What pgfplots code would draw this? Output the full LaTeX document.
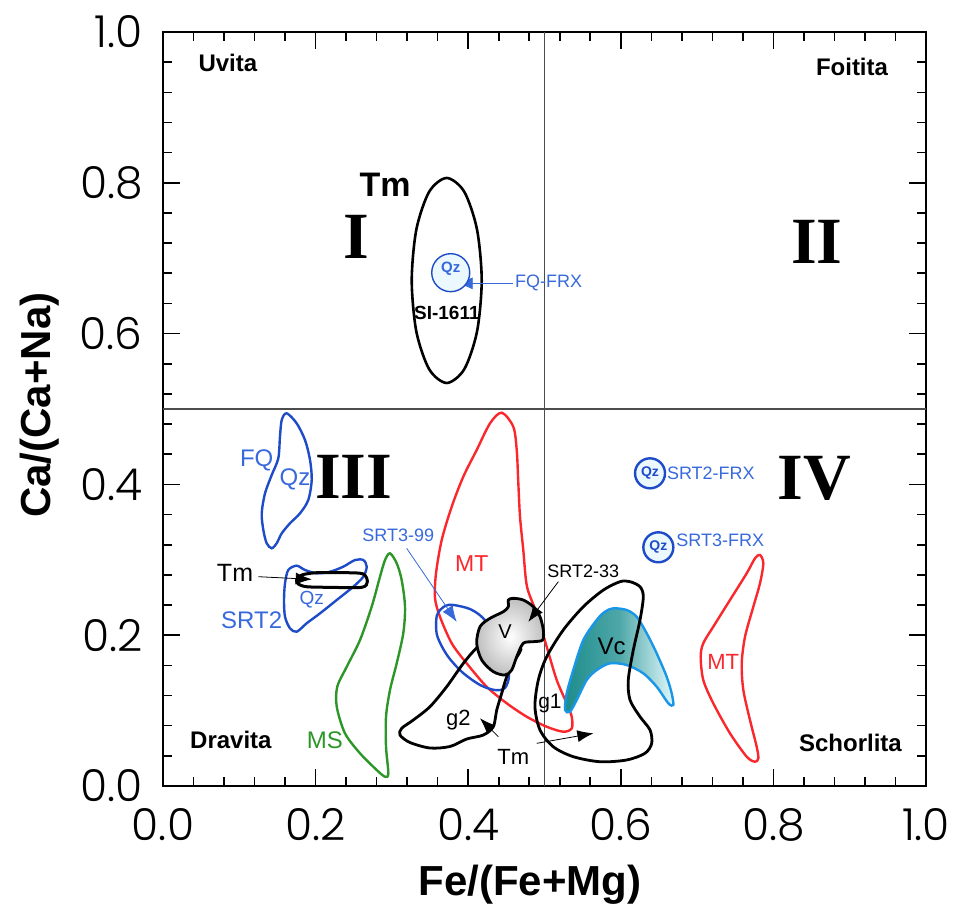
\documentclass[border=0pt]{standalone}
\usepackage{pgfplots}
\pgfplotsset{compat=1.18}
\usepackage{fontspec}
\setmainfont{Liberation Sans}
\newfontfamily\romanfont{Liberation Serif}
\newfontfamily\tickfont{Poppins Light}
\usetikzlibrary{arrows.meta}
\definecolor{myblue}{RGB}{30,75,200}
\definecolor{txtblue}{RGB}{55,105,220}
\definecolor{myred}{RGB}{250,40,45}
\definecolor{mygreen}{RGB}{45,150,40}
\definecolor{vcline}{RGB}{25,150,230}
\definecolor{vcdark}{RGB}{30,140,140}
\definecolor{vclight}{RGB}{225,248,252}
\begin{document}
\begin{tikzpicture}
\path[use as bounding box] (-81.5pt,-60.5pt) rectangle (397pt,393pt);
\begin{axis}[
  at={(0,0)}, anchor=south west,
  scale only axis, width=381.5pt, height=377pt,
  xmin=0, xmax=1, ymin=0, ymax=1,
  xtick={0,0.2,0.4,0.6,0.8,1}, ytick={0,0.2,0.4,0.6,0.8,1},
  minor tick num=4,
  tick align=inside,
  major tick length=8.5pt, minor tick length=4.5pt,
  axis line style={line width=0.9pt},
  every tick/.style={black, line width=0.8pt},
  /pgf/number format/fixed, /pgf/number format/fixed zerofill,
  /pgf/number format/precision=1, /pgf/number format/assume math mode=true,
  xticklabel style={font=\tickfont\fontsize{22}{24}\selectfont, inner sep=0pt, anchor=north},
  yticklabel style={font=\tickfont\fontsize{22}{24}\selectfont, inner sep=0pt, anchor=east},
  xticklabel shift=11pt, yticklabel shift=10pt,
  xlabel={Fe/(Fe+Mg)}, ylabel={Ca/(Ca+Na)},
  xlabel style={font=\bfseries\fontsize{21}{24}\selectfont, at={(axis description cs:0.481,-0.1446)}, anchor=base},
  ylabel style={font=\bfseries\fontsize{21}{24}\selectfont, at={(axis description cs:-0.148,0.505)}, anchor=base},
  clip=false,
]
% quadrant lines
\addplot[gray!60!black, line width=0.6pt] coordinates {(0.5,0) (0.5,1)};
\addplot[gray!60!black, line width=0.6pt] coordinates {(0,0.5) (1,0.5)};
% MS
\addplot[mygreen, line width=1.2pt, smooth cycle] coordinates {
(0.2975,0.3086) (0.3063,0.2954) (0.3128,0.2732) (0.3172,0.2378) (0.3149,0.2025) (0.3063,0.1627) (0.2975,0.1273) (0.2923,0.0919) (0.2923,0.0521) (0.2953,0.0168) (0.2910,0.0123) (0.2801,0.0212) (0.2582,0.0434) (0.2385,0.0699) (0.2277,0.1052) (0.2284,0.1317) (0.2408,0.1582) (0.2582,0.1936) (0.2735,0.2378) (0.2844,0.2776) (0.2910,0.2997)};
% FQ
\addplot[myblue, line width=1.2pt, smooth cycle] coordinates {
(0.1621,0.4943) (0.1752,0.4810) (0.1861,0.4589) (0.1927,0.4324) (0.1949,0.4058) (0.1904,0.3793) (0.1796,0.3617) (0.1664,0.3484) (0.1556,0.3351) (0.1490,0.3219) (0.1425,0.3153) (0.1359,0.3219) (0.1315,0.3395) (0.1294,0.3617) (0.1337,0.3882) (0.1425,0.4125) (0.1511,0.4346) (0.1533,0.4633) (0.1556,0.4854)};
% SRT2
\addplot[myblue, line width=1.2pt, smooth cycle] coordinates {
(0.1642,0.2865) (0.1752,0.2922) (0.1861,0.2865) (0.2014,0.2821) (0.2189,0.2842) (0.2363,0.2909) (0.2516,0.2997) (0.2625,0.2997) (0.2670,0.2909) (0.2625,0.2776) (0.2494,0.2643) (0.2277,0.2467) (0.2058,0.2290) (0.1883,0.2158) (0.1752,0.2046) (0.1664,0.2092) (0.1599,0.2245) (0.1586,0.2467) (0.1599,0.2688)};
% Tm loop
\addplot[black, line width=1.5pt, smooth cycle] coordinates {
(0.1752,0.2732) (0.1818,0.2798) (0.2014,0.2829) (0.2408,0.2829) (0.2625,0.2812) (0.2678,0.2710) (0.2604,0.2635) (0.2189,0.2635) (0.1883,0.2643) (0.1773,0.2679)};
% MT big
\addplot[myred, line width=1.2pt, smooth cycle] coordinates {
(0.4439,0.4951) (0.4591,0.4765) (0.4636,0.4456) (0.4657,0.4015) (0.4679,0.3572) (0.4722,0.3130) (0.4771,0.2643) (0.4898,0.2290) (0.5029,0.1847) (0.5160,0.1406) (0.5291,0.1097) (0.5357,0.0919) (0.5357,0.0765) (0.5246,0.0720) (0.5029,0.0786) (0.4767,0.0919) (0.4505,0.1097) (0.4242,0.1317) (0.3980,0.1627) (0.3784,0.1893) (0.3630,0.2245) (0.3565,0.2493) (0.3578,0.2821) (0.3653,0.3263) (0.3784,0.3705) (0.3936,0.4103) (0.4111,0.4456) (0.4286,0.4810)};
% SRT3-99
\addplot[myblue, line width=1.2pt, smooth cycle] coordinates {
(0.3805,0.2401) (0.4024,0.2347) (0.4194,0.2228) (0.4351,0.2003) (0.4469,0.1737) (0.4535,0.1472) (0.4482,0.1300) (0.4351,0.1273) (0.4155,0.1340) (0.3919,0.1512) (0.3722,0.1737) (0.3591,0.2003) (0.3591,0.2268) (0.3696,0.2387)};
% g2
\addplot[black, line width=1.4pt, smooth cycle] coordinates {
(0.4286,0.1936) (0.4111,0.1830) (0.3936,0.1627) (0.3718,0.1317) (0.3499,0.1052) (0.3280,0.0875) (0.3128,0.0765) (0.3106,0.0676) (0.3237,0.0577) (0.3499,0.0504) (0.3761,0.0524) (0.3980,0.0623) (0.4198,0.0676) (0.4329,0.0786) (0.4374,0.1008) (0.4439,0.1229) (0.4505,0.1450) (0.4613,0.1671) (0.4679,0.1847)};
% V
\addplot[black, line width=1.4pt, smooth cycle, inner color=white, outer color=gray!50] coordinates {
(0.4526,0.2467) (0.4591,0.2489) (0.4722,0.2467) (0.4853,0.2378) (0.4941,0.2245) (0.4984,0.2069) (0.4976,0.1936) (0.4853,0.1914) (0.4722,0.1893) (0.4636,0.1715) (0.4570,0.1538) (0.4482,0.1472) (0.4329,0.1516) (0.4177,0.1671) (0.4111,0.1893) (0.4155,0.2113) (0.4286,0.2224) (0.4460,0.2312) (0.4526,0.2378)};
% Vc
\addplot[vcline, line width=1.2pt, smooth cycle, left color=vcdark, right color=vclight, middle color=vcdark!75!vclight] coordinates {
(0.5902,0.2357) (0.6077,0.2334) (0.6208,0.2245) (0.6340,0.2025) (0.6470,0.1760) (0.6601,0.1450) (0.6667,0.1229) (0.6688,0.1074) (0.6623,0.1097) (0.6470,0.1317) (0.6295,0.1494) (0.6077,0.1605) (0.5858,0.1627) (0.5684,0.1538) (0.5553,0.1406) (0.5422,0.1141) (0.5334,0.0986) (0.5269,0.1008) (0.5291,0.1229) (0.5377,0.1538) (0.5509,0.1936) (0.5684,0.2202) (0.5793,0.2312)};
% g1
\addplot[black, line width=1.4pt, smooth cycle] coordinates {
(0.5990,0.2710) (0.6121,0.2710) (0.6252,0.2643) (0.6295,0.2511) (0.6252,0.2202) (0.6164,0.1804) (0.6098,0.1406) (0.6121,0.1141) (0.6252,0.0919) (0.6383,0.0743) (0.6405,0.0566) (0.6317,0.0434) (0.6077,0.0345) (0.5727,0.0322) (0.5377,0.0389) (0.5115,0.0521) (0.4941,0.0743) (0.4875,0.1052) (0.4919,0.1406) (0.5029,0.1715) (0.5246,0.2069) (0.5509,0.2378) (0.5771,0.2599)};
% MT right
\addplot[myred, line width=1.2pt, smooth cycle] coordinates {
(0.7824,0.3064) (0.7868,0.2954) (0.7824,0.2688) (0.7737,0.2378) (0.7628,0.1980) (0.7585,0.1627) (0.7606,0.1273) (0.7693,0.0875) (0.7781,0.0521) (0.7802,0.0367) (0.7759,0.0322) (0.7650,0.0389) (0.7431,0.0699) (0.7212,0.1097) (0.7081,0.1406) (0.7047,0.1715) (0.7081,0.1893) (0.7212,0.2113) (0.7431,0.2467) (0.7650,0.2821) (0.7759,0.3020)};
% Tm ellipse
\addplot[black, line width=1.3pt, smooth cycle] coordinates {
(0.4177,0.6704) (0.4115,0.7383) (0.3948,0.7882) (0.3718,0.8064) (0.3489,0.7882) (0.3321,0.7383) (0.3260,0.6704) (0.3321,0.6024) (0.3489,0.5527) (0.3718,0.5345) (0.3948,0.5527) (0.4115,0.6024)};
% Qz circles
\addplot[only marks, mark=*, mark size=9.5pt, mark options={draw=myblue, fill=cyan!8, line width=0.7pt},
  nodes near coords={Qz}, nodes near coords align={center},
  every node near coord/.append style={anchor=center, yshift=2pt, text=txtblue, font=\bfseries\fontsize{7.5}{9}\selectfont}]
  coordinates {(0.3771,0.6808)};
\addplot[only marks, mark=*, mark size=7.5pt, mark options={draw=myblue, fill=cyan!8, line width=1.2pt},
  nodes near coords={Qz}, nodes near coords align={center},
  every node near coord/.append style={anchor=center, text=myblue, font=\bfseries\fontsize{7}{8}\selectfont}]
  coordinates {(0.6383,0.4147) (0.6492,0.3166)};
% arrows
\draw[txtblue, line width=0.4pt, -{Latex[length=8pt,width=6pt]}] (axis cs:0.4587,0.6667) -- (axis cs:0.3849,0.6667);
\draw[black, line width=0.4pt, -{Latex[length=8pt,width=6pt]}] (axis cs:0.1249,0.2776) -- (axis cs:0.1949,0.2741);
\draw[txtblue, line width=0.4pt, -{Latex[length=8pt,width=6pt]}] (axis cs:0.3194,0.3152) -- (axis cs:0.3849,0.2177);
\draw[black, line width=0.4pt, -{Latex[length=8pt,width=6pt]}] (axis cs:0.5181,0.2710) -- (axis cs:0.4788,0.2177);
\draw[black, line width=0.4pt, -{Latex[length=8pt,width=6pt]}] (axis cs:0.4395,0.0654) -- (axis cs:0.4155,0.0898);
\draw[black, line width=0.4pt, -{Latex[length=8pt,width=6pt]}] (axis cs:0.4898,0.0566) -- (axis cs:0.5640,0.0699);
% texts
\node[font=\bfseries\fontsize{12}{14}\selectfont] at (axis cs:0.085,0.959) {Uvita};
\node[font=\bfseries\fontsize{12}{14}\selectfont] at (axis cs:0.903,0.954) {Foitita};
\node[font=\bfseries\fontsize{12}{14}\selectfont] at (axis cs:0.089,0.061) {Dravita};
\node[font=\bfseries\fontsize{12}{14}\selectfont] at (axis cs:0.901,0.057) {Schorlita};
\node[font=\romanfont\bfseries\fontsize{33}{36}\selectfont] at (axis cs:0.254,0.728) {I};
\node[font=\romanfont\bfseries\fontsize{33}{36}\selectfont] at (axis cs:0.857,0.721) {II};
\node[font=\romanfont\bfseries\fontsize{33}{36}\selectfont] at (axis cs:0.250,0.410) {III};
\node[font=\romanfont\bfseries\fontsize{33}{36}\selectfont] at (axis cs:0.854,0.408) {IV};
\node[font=\bfseries\fontsize{17}{19}\selectfont] at (axis cs:0.291,0.798) {Tm};
\node[font=\bfseries\fontsize{9.5}{11}\selectfont] at (axis cs:0.372,0.627) {SI-1611};
\node[font=\fontsize{9}{11}\selectfont, txtblue, anchor=west, inner sep=0pt] at (axis cs:0.461,0.6667) {FQ-FRX};
\node[font=\fontsize{12}{14}\selectfont, txtblue] at (axis cs:0.1228,0.4324) {FQ};
\node[font=\fontsize{12}{14}\selectfont, txtblue] at (axis cs:0.173,0.406) {Qz};
\node[font=\fontsize{12.5}{14}\selectfont] at (axis cs:0.0944,0.2821) {Tm};
\node[font=\fontsize{9.5}{11}\selectfont, txtblue] at (axis cs:0.1949,0.2467) {Qz};
\node[font=\fontsize{12}{14}\selectfont, txtblue] at (axis cs:0.1162,0.2202) {SRT2};
\node[font=\fontsize{12}{14}\selectfont, mygreen] at (axis cs:0.2123,0.0610) {MS};
\node[font=\fontsize{9}{11}\selectfont, txtblue] at (axis cs:0.3084,0.3329) {SRT3-99};
\node[font=\fontsize{11.5}{13}\selectfont, myred] at (axis cs:0.4046,0.2954) {MT};
\node[font=\fontsize{10}{12}\selectfont] at (axis cs:0.4482,0.2047) {V};
\node[font=\fontsize{9}{11}\selectfont] at (axis cs:0.5509,0.2842) {SRT2-33};
\node[font=\fontsize{11}{13}\selectfont] at (axis cs:0.387,0.0875) {g2};
\node[font=\fontsize{11}{13}\selectfont] at (axis cs:0.4591,0.0389) {Tm};
\node[font=\fontsize{10.5}{12}\selectfont] at (axis cs:0.5072,0.1097) {g1};
\node[font=\fontsize{12}{14}\selectfont] at (axis cs:0.588,0.1847) {Vc};
\node[font=\fontsize{9}{11}\selectfont, txtblue, anchor=west, inner sep=0pt] at (axis cs:0.6601,0.4147) {SRT2-FRX};
\node[font=\fontsize{9}{11}\selectfont, txtblue, anchor=west, inner sep=0pt] at (axis cs:0.6723,0.3263) {SRT3-FRX};
\node[font=\fontsize{11}{13}\selectfont, myred] at (axis cs:0.7343,0.1649) {MT};
\end{axis}
\end{tikzpicture}
\end{document}
